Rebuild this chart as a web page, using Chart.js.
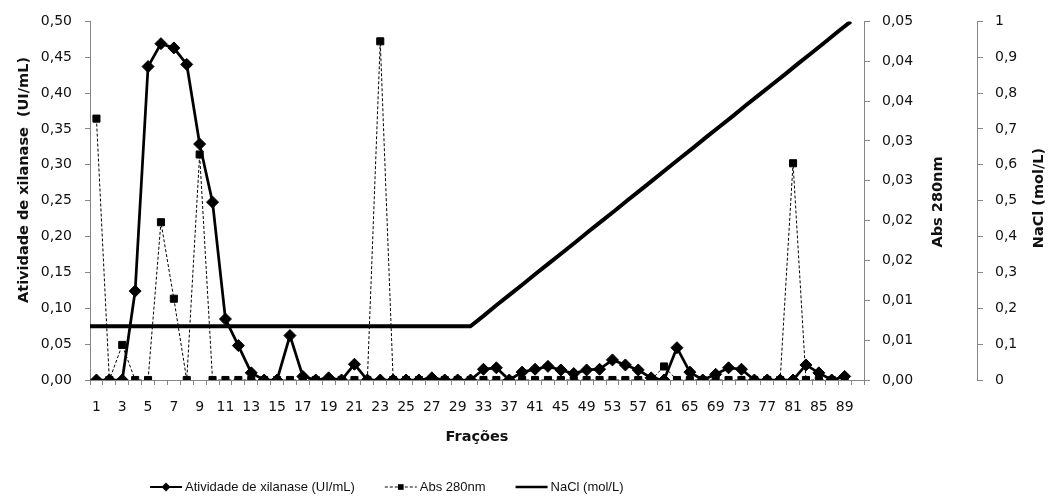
<!DOCTYPE html>
<html>
<head>
<meta charset="utf-8">
<script src="https://cdn.jsdelivr.net/npm/chart.js@4.4.1/dist/chart.umd.min.js"></script>
<style>
  html, body { margin: 0; padding: 0; background: #fff; }
</style>
</head>
<body>
<canvas id="chart" width="1050" height="498"></canvas>
<script>
    // fracoes: 1..29 seguidas, depois de 2 em 2 (31..89); a ultima posicao fica vazia
    var fractions = ['1','2','3','4','5','6','7','8','9','10','11','12','13','14','15','16','17','18','19','20',
        '21','22','23','24','25','26','27','28','29','31','33','35','37','39','41','43','45','47','49','51',
        '53','55','57','59','61','63','65','67','69','71','73','75','77','79','81','83','85','87','89',''];

    var atividade = [0, 0, 0, 0.124, 0.437, 0.469, 0.463, 0.440, 0.329, 0.248,
        0.085, 0.048, 0.010, 0, 0, 0.062, 0.005, 0, 0.003, 0,
        0.022, 0, 0, 0, 0, 0, 0.003, 0, 0, 0,
        0.015, 0.017, 0, 0.011, 0.015, 0.019, 0.014, 0.009, 0.014, 0.015,
        0.028, 0.021, 0.014, 0.003, 0, 0.045, 0.011, 0, 0.008, 0.017,
        0.015, 0, 0, 0, 0, 0.021, 0.010, 0, 0.005];

    var abs280 = [0.0328, 0, 0.0044, 0, 0, 0.0198, 0.0102, 0, 0.0283, 0,
        0, 0, 0, 0, 0, 0, 0, 0, 0, 0,
        0, 0, 0.0425, 0, 0, 0, 0, 0, 0, 0,
        0, 0, 0, 0, 0, 0, 0, 0, 0, 0,
        0, 0, 0, 0, 0.0017, 0, 0, 0, 0, 0,
        0, 0, 0, 0, 0.0272, 0, 0, 0, 0];

    var nacl = [0.15, 0.15, 0.15, 0.15, 0.15, 0.15, 0.15, 0.15, 0.15, 0.15,
        0.15, 0.15, 0.15, 0.15, 0.15, 0.15, 0.15, 0.15, 0.15, 0.15,
        0.15, 0.15, 0.15, 0.15, 0.15, 0.15, 0.15, 0.15, 0.15, 0.15,
        0.179, 0.209, 0.238, 0.267, 0.297, 0.326, 0.355, 0.384, 0.414, 0.443,
        0.472, 0.502, 0.531, 0.560, 0.590, 0.619, 0.648, 0.678, 0.707, 0.736,
        0.766, 0.795, 0.824, 0.853, 0.883, 0.912, 0.941, 0.971, 1.000, null];

    var AXIS = '#868686';
    var TXT = '#111';
    var TICK_FONT = { family: 'DejaVu Sans', size: 14 };

    function comma(v, d){
        var r = Math.round(Math.round(v * 1e6) / Math.pow(10, 6 - d)) / Math.pow(10, d);
        return r.toFixed(d).replace('.', ',');
    }

    function vText(ctx, text, x, y){
        ctx.save();
        ctx.translate(x, y);
        ctx.rotate(-Math.PI / 2);
        ctx.fillText(text, 0, 0);
        ctx.restore();
    }

    function drawMarker(ctx, style, x, y, r){
        ctx.beginPath();
        if(style === 'rectRot'){
            ctx.moveTo(x - r, y); ctx.lineTo(x, y - r); ctx.lineTo(x + r, y); ctx.lineTo(x, y + r);
            ctx.closePath();
        } else if(style === 'rect'){
            var h = r * Math.SQRT1_2;
            ctx.rect(x - h, y - h, 2 * h, 2 * h);
        }
        ctx.fill();
    }

    var decor = {
        id: 'decor',
        afterDraw: function(chart){
            var ctx = chart.ctx, a = chart.chartArea;
            ctx.save();
            ctx.fillStyle = TXT;
            ctx.textAlign = 'center';
            ctx.textBaseline = 'middle';
            ctx.font = 'bold 14.5px "DejaVu Sans"';
            ctx.fillText('Frações', (a.left + a.right) / 2, 437);
            vText(ctx, 'Atividade de xilanase  (UI/mL)', 24, 180);
            vText(ctx, 'Abs 280nm', chart.scales.yAbs.left + 74, 202);
            vText(ctx, 'NaCl (mol/L)', chart.scales.yNa.left + 62, 198);

            // legenda: linha + marcador + texto
            var x = 150, y = 487, sample = 32;
            ctx.font = '13px "Liberation Sans"';
            ctx.textAlign = 'left';
            chart.data.datasets.forEach(function(ds){
                ctx.strokeStyle = '#000';
                ctx.fillStyle = '#000';
                ctx.lineWidth = ds.legendWidth;
                ctx.setLineDash(ds.borderDash || []);
                ctx.beginPath();
                ctx.moveTo(x, y);
                ctx.lineTo(x + sample, y);
                ctx.stroke();
                ctx.setLineDash([]);
                if(ds.pointRadius > 0){
                    drawMarker(ctx, ds.pointStyle, x + sample / 2, y, ds.legendMarker);
                }
                ctx.fillStyle = TXT;
                ctx.fillText(ds.label, x + sample + 3, y);
                x += sample + 3 + ctx.measureText(ds.label).width + 30;
            });
            ctx.restore();
        }
    };

    var ctx = document.getElementById('chart').getContext('2d');
    new Chart(ctx, {
        type: 'line',
        data: {
            labels: fractions,
            datasets: [{
                label: 'Atividade de xilanase (UI/mL)',
                data: atividade,
                xAxisID: 'x',
                yAxisID: 'y',
                borderColor: '#000',
                backgroundColor: '#000',
                borderWidth: 2.75,
                pointStyle: 'rectRot',
                pointRadius: 6,
                pointBorderWidth: 1,
                pointBackgroundColor: '#000',
                pointBorderColor: '#000',
                tension: 0,
                legendWidth: 2,
                legendMarker: 4.5
            }, {
                label: 'Abs 280nm',
                data: abs280,
                xAxisID: 'x',
                yAxisID: 'yAbs',
                borderColor: '#000',
                backgroundColor: '#000',
                borderWidth: 1,
                borderDash: [3, 2],
                pointStyle: 'rect',
                pointRadius: 5,
                pointBorderWidth: 1,
                pointBackgroundColor: '#000',
                pointBorderColor: '#000',
                tension: 0,
                legendWidth: 1,
                legendMarker: 4
            }, {
                label: 'NaCl (mol/L)',
                data: nacl,
                xAxisID: 'x2',
                yAxisID: 'yNa',
                borderColor: '#000',
                backgroundColor: '#000',
                borderWidth: 4,
                pointRadius: 0,
                tension: 0,
                legendWidth: 2.5,
                legendMarker: 0
            }]
        },
        options: {
            responsive: false,
            animation: false,
            events: [],
            layout: { padding: { top: 17, right: 0, bottom: 0, left: 0 } },
            plugins: { legend: { display: false }, tooltip: { enabled: false } },
            scales: {
                x: {
                    type: 'category',
                    position: 'bottom',
                    offset: true,
                    grid: { offset: true, drawOnChartArea: false, tickLength: 5, color: AXIS },
                    border: { color: AXIS, width: 1 },
                    ticks: {
                        autoSkip: false, maxRotation: 0, minRotation: 0, padding: 14,
                        color: TXT, font: TICK_FONT,
                        callback: function(v, i){ return i % 2 === 0 ? this.getLabelForValue(v) : ''; }
                    },
                    afterFit: function(s){ s.height = 118; }
                },
                x2: { type: 'category', labels: fractions, offset: false, display: false },
                y: {
                    position: 'left',
                    min: 0, max: 0.5,
                    grid: { drawOnChartArea: false, tickLength: 5, color: AXIS },
                    border: { color: AXIS, width: 1 },
                    ticks: { stepSize: 0.05, padding: 13, color: TXT, font: TICK_FONT,
                        callback: function(v){ return comma(v, 2); } },
                    afterFit: function(s){ s.width = 90; }
                },
                yAbs: {
                    position: 'right',
                    min: 0, max: 0.045,
                    grid: { drawOnChartArea: false, tickLength: 6, color: AXIS },
                    border: { color: AXIS, width: 1 },
                    ticks: { stepSize: 0.005, padding: 12, color: TXT, font: TICK_FONT,
                        callback: function(v){ return comma(v, 2); } },
                    afterFit: function(s){ s.width = 113; }
                },
                yNa: {
                    position: 'right',
                    min: 0, max: 1,
                    grid: { drawOnChartArea: false, tickLength: 6, color: AXIS },
                    border: { color: AXIS, width: 1 },
                    ticks: { stepSize: 0.1, padding: 12, color: TXT, font: TICK_FONT,
                        callback: function(v){ return String(Math.round(v * 10) / 10).replace('.', ','); } },
                    afterFit: function(s){ s.width = 73; }
                }
            }
        },
        plugins: [decor]
    });
</script>
</body>
</html>
